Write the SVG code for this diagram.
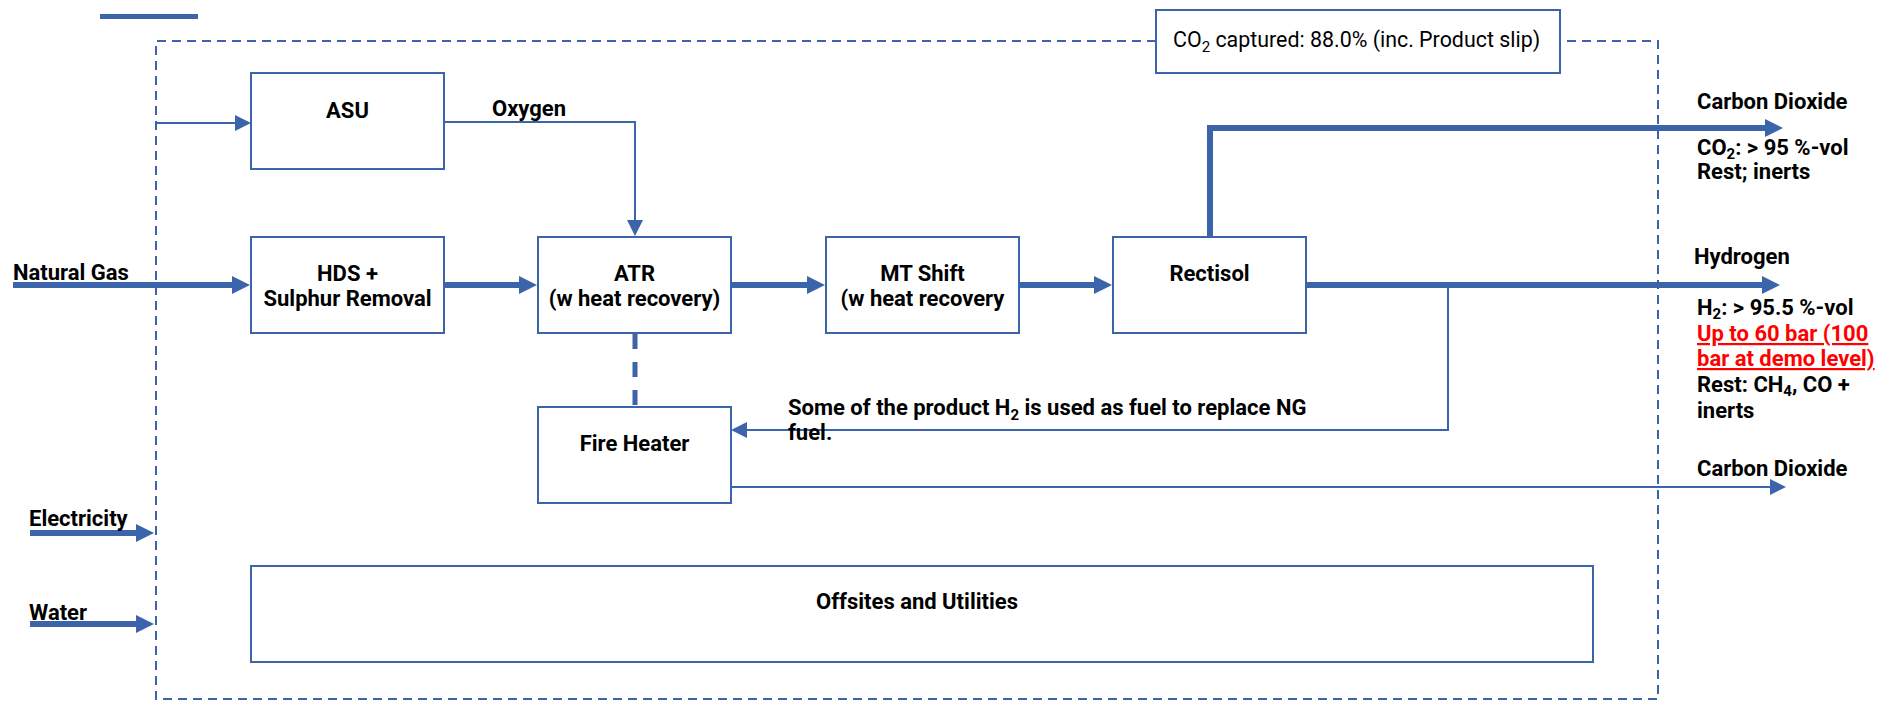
<svg xmlns="http://www.w3.org/2000/svg" width="1887" height="701" viewBox="0 0 1887 701">
<style>
.box{fill:#fff;stroke:#3B64AA;stroke-width:2}
.t{font-family:Roboto,"Liberation Sans",sans-serif;font-weight:bold;font-size:22px;fill:#000}
.c{text-anchor:middle}
.r{font-family:Roboto,"Liberation Sans",sans-serif;font-size:21.4px;fill:#000}
.red{fill:#FF0000;text-decoration:underline}
.thick{fill:none;stroke:#3B64AA;stroke-width:6}
.thin{fill:none;stroke:#3B64AA;stroke-width:2}
.bound{fill:none;stroke:#3B64AA;stroke-width:2;stroke-dasharray:9 6}
</style>
<defs>
<marker id="ak" markerUnits="userSpaceOnUse" markerWidth="18" markerHeight="18" refX="1" refY="9" orient="auto"><path d="M0,0 L18,9 L0,18 z" fill="#3B64AA"/></marker>
<marker id="an" markerUnits="userSpaceOnUse" markerWidth="16" markerHeight="16" refX="1" refY="8" orient="auto"><path d="M0,0 L16,8 L0,16 z" fill="#3B64AA"/></marker>
</defs>
<rect x="100" y="14" width="98" height="5" fill="#3B64AA"/>
<g id="boundary">
<path class="bound" d="M1156,41 H156 V699 H1658 V41 H1560"/>
</g>
<g id="co2-captured">
<rect class="box" x="1156" y="10" width="404" height="63"/>
<text class="r" x="1173" y="47">CO<tspan font-size="15" dy="5">2</tspan><tspan dy="-5"> captured: 88.0% (inc. Product slip)</tspan></text>
</g>
<g id="connectors">
<path class="thin" d="M156,123 H236" marker-end="url(#an)"/>
<path class="thin" d="M444,122 H635 V221" marker-end="url(#an)"/>
<path class="thick" d="M13,285 H233" marker-end="url(#ak)"/>
<path class="thick" d="M444,285 H520" marker-end="url(#ak)"/>
<path class="thick" d="M731,285 H808" marker-end="url(#ak)"/>
<path class="thick" d="M1019,285 H1095" marker-end="url(#ak)"/>
<path class="thick" d="M1210,237 V128 H1766" marker-end="url(#ak)"/>
<path class="thick" d="M1306,285 H1763" marker-end="url(#ak)"/>
<path class="thin" d="M1448,285 V430 H746" marker-end="url(#an)"/>
<path class="thin" d="M731,487 H1771" marker-end="url(#an)"/>
<path class="thick" d="M30,533 H137" marker-end="url(#ak)"/>
<path class="thick" d="M30,624 H137" marker-end="url(#ak)"/>
<path fill="none" stroke="#3B64AA" stroke-width="5" stroke-dasharray="15 13" d="M635,334 V407"/>
</g>
<g id="asu">
<rect class="box" x="251" y="73" width="193" height="96"/>
<text class="t c" x="347.5" y="118">ASU</text>
</g>
<g id="hds">
<rect class="box" x="251" y="237" width="193" height="96"/>
<text class="t c" x="347.5" y="281">HDS +</text>
<text class="t c" x="347.5" y="306">Sulphur Removal</text>
</g>
<g id="atr">
<rect class="box" x="538" y="237" width="193" height="96"/>
<text class="t c" x="634.5" y="281">ATR</text>
<text class="t c" x="634.5" y="306">(w heat recovery)</text>
</g>
<g id="mtshift">
<rect class="box" x="826" y="237" width="193" height="96"/>
<text class="t c" x="922.5" y="281">MT Shift</text>
<text class="t c" x="922.5" y="306">(w heat recovery</text>
</g>
<g id="rectisol">
<rect class="box" x="1113" y="237" width="193" height="96"/>
<text class="t c" x="1209.5" y="281">Rectisol</text>
</g>
<g id="fireheater">
<rect class="box" x="538" y="407" width="193" height="96"/>
<text class="t c" x="634.5" y="451">Fire Heater</text>
</g>
<g id="offsites">
<rect class="box" x="251" y="566" width="1342" height="96"/>
<text class="t c" x="917" y="609">Offsites and Utilities</text>
</g>
<g id="labels">
<text class="t" x="492" y="116">Oxygen</text>
<text class="t" x="13" y="280">Natural Gas</text>
<text class="t" x="29" y="526">Electricity</text>
<text class="t" x="29" y="620">Water</text>
<text class="t" x="788" y="415" font-size="21.3">Some of the product H<tspan font-size="15" dy="5">2</tspan><tspan dy="-5"> is used as fuel to replace NG</tspan></text>
<text class="t" x="788" y="440" font-size="21.3">fuel.</text>
<text class="t" x="1697" y="109">Carbon Dioxide</text>
<text class="t" x="1697" y="155">CO<tspan font-size="15" dy="4">2</tspan><tspan dy="-4">: &gt; 95 %-vol</tspan></text>
<text class="t" x="1697" y="179">Rest; inerts</text>
<text class="t" x="1694" y="264">Hydrogen</text>
<text class="t" x="1697" y="315">H<tspan font-size="15" dy="4">2</tspan><tspan dy="-4">: &gt; 95.5 %-vol</tspan></text>
<text class="t red" x="1697" y="341">Up to 60 bar (100</text>
<text class="t red" x="1697" y="366">bar at demo level)</text>
<text class="t" x="1697" y="392">Rest: CH<tspan font-size="15" dy="4">4</tspan><tspan dy="-4">, CO +</tspan></text>
<text class="t" x="1697" y="418">inerts</text>
<text class="t" x="1697" y="476">Carbon Dioxide</text>
</g>
</svg>
